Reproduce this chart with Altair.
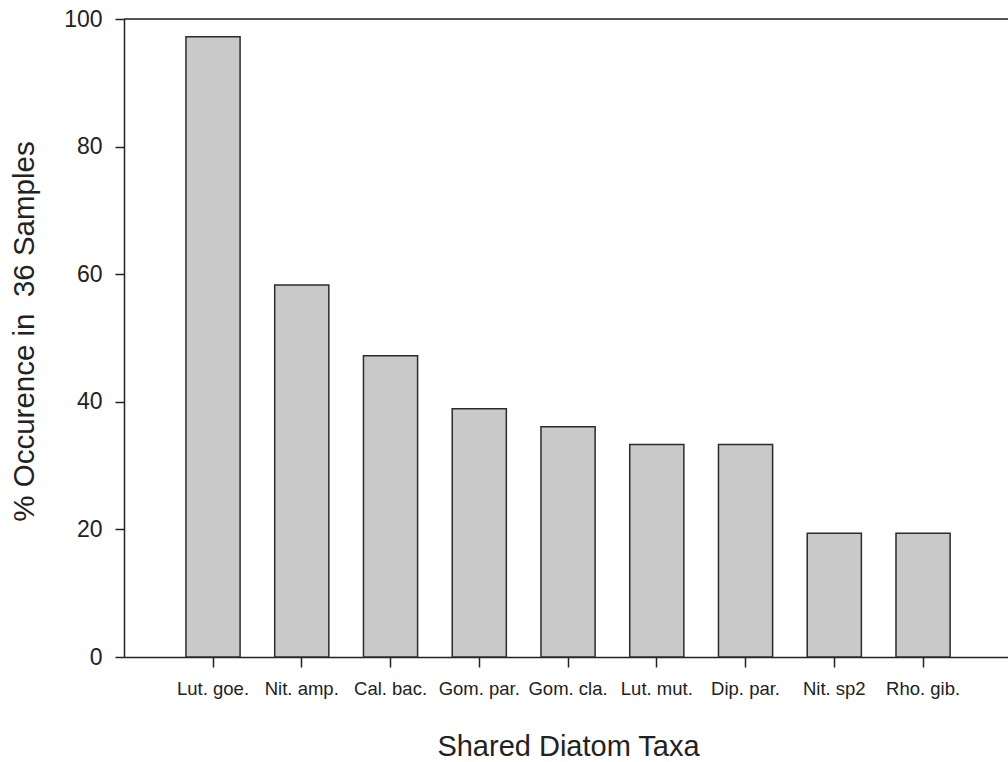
import altair as alt
import pandas as pd

# Share of the 36 samples in which each diatom taxon was found
taxa = ["Lut. goe.", "Nit. amp.", "Cal. bac.", "Gom. par.", "Gom. cla.",
        "Lut. mut.", "Dip. par.", "Nit. sp2", "Rho. gib."]
occurrence = [97.2, 58.3, 47.2, 38.9, 36.1, 33.3, 33.3, 19.4, 19.4]
y_ticks = [0, 20, 40, 60, 80, 100]

df = pd.DataFrame({"taxon": taxa, "pct": occurrence})

FONT = "Liberation Sans"
INK = "#222222"

W, H = 884, 638

bars = alt.Chart(df).mark_bar(
    color="#c9c9c9", stroke="#2b2b2b", strokeWidth=1.5
).encode(
    x=alt.X(
        "taxon:N", sort=taxa,
        scale=alt.Scale(paddingInner=0.39, paddingOuter=0.675, align=0.517),
        axis=alt.Axis(
            title="Shared Diatom Taxa", labelAngle=0, tickSize=10,
            labelPadding=12, labelFontSize=18.5, labelFont=FONT,
            labelColor=INK, titleFont=FONT, titleFontSize=29,
            titleFontWeight="normal", titleColor=INK,
            titleX=444, titleY=98, titleBaseline="alphabetic",
            domainColor=INK, domainWidth=1.5, tickColor=INK, tickWidth=1.5,
        ),
    ),
    y=alt.Y(
        "pct:Q",
        scale=alt.Scale(domain=[0, 100], nice=False),
        axis=alt.Axis(
            # non-breaking space keeps the double gap before "36"
            title="% Occurence in \u00a036 Samples", values=y_ticks, grid=False,
            tickSize=9, labelPadding=13, labelFontSize=23, labelFont=FONT,
            labelColor=INK, titleFont=FONT, titleFontSize=29.5,
            titleFontWeight="normal", titleColor=INK, titleAngle=-90,
            titleX=-91, titleY=312, titleBaseline="alphabetic",
            titleAlign="center",
            domainColor=INK, domainWidth=1.5, tickColor=INK, tickWidth=1.5,
        ),
    ),
)

# Upper frame line at 100 %
top_line = alt.Chart(pd.DataFrame({"pct": [100]})).mark_rule(
    color=INK, strokeWidth=1.5
).encode(
    y="pct:Q", x=alt.value(0), x2=alt.value(W)
)

chart = alt.layer(bars, top_line).properties(
    width=W, height=H,
    autosize=alt.AutoSizeParams(type="none"),
    padding={"left": 124, "top": 19, "right": 0, "bottom": 105},
).configure_view(stroke=None).configure(background="white")

chart.save("out.html", embed_options={"renderer": "svg", "actions": False})
